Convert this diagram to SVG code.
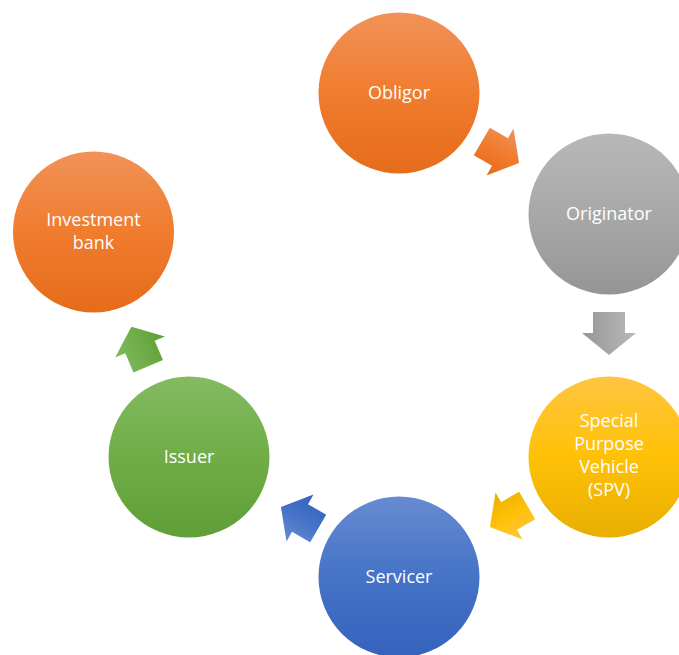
<svg xmlns="http://www.w3.org/2000/svg" width="679" height="655" viewBox="0 0 679 655">
<defs>
<linearGradient id="gOr" x1="0" y1="0" x2="0" y2="1"><stop offset="0" stop-color="#F19258"/><stop offset="0.5" stop-color="#F07C2E"/><stop offset="1" stop-color="#E56C1A"/></linearGradient>
<linearGradient id="gGy" x1="0" y1="0" x2="0" y2="1"><stop offset="0" stop-color="#B8B8B8"/><stop offset="0.5" stop-color="#A8A8A8"/><stop offset="1" stop-color="#959595"/></linearGradient>
<linearGradient id="gYe" x1="0" y1="0" x2="0" y2="1"><stop offset="0" stop-color="#FFC540"/><stop offset="0.5" stop-color="#FFC107"/><stop offset="1" stop-color="#E8AE00"/></linearGradient>
<linearGradient id="gBl" x1="0" y1="0" x2="0" y2="1"><stop offset="0" stop-color="#678BD2"/><stop offset="0.5" stop-color="#4573C6"/><stop offset="1" stop-color="#3562BC"/></linearGradient>
<linearGradient id="gGr" x1="0" y1="0" x2="0" y2="1"><stop offset="0" stop-color="#83BB61"/><stop offset="0.5" stop-color="#70AD47"/><stop offset="1" stop-color="#5F9F37"/></linearGradient>
<path id="arr" d="M-21,-16 L0,-16 L0,-27 L22,0 L0,27 L0,16 L-21,16 Z"/>
</defs>
<style>
text{font-family:"Open Sans","Liberation Sans",sans-serif;font-size:18px;fill:#FFFFFF;text-anchor:middle}
</style>
<g id="connectors">
<use href="#arr" fill="url(#gOr)" transform="translate(500,152) rotate(30)"/>
<use href="#arr" fill="url(#gGy)" transform="translate(609,333) rotate(90)"/>
<use href="#arr" fill="url(#gYe)" transform="translate(509,516) rotate(150)"/>
<use href="#arr" fill="url(#gBl)" transform="translate(300,518) rotate(210)"/>
<use href="#arr" fill="url(#gGr)" transform="translate(140,347) rotate(247)"/>
</g>
<g id="obligor"><circle cx="399" cy="93" r="80.5" fill="url(#gOr)"/><text x="399" y="99">Obligor</text></g>
<g id="originator"><circle cx="609" cy="214" r="80.5" fill="url(#gGy)"/><text x="609" y="220">Originator</text></g>
<g id="spv"><circle cx="609" cy="457" r="80.5" fill="url(#gYe)"/><text x="609" y="427">Special</text><text x="609" y="450">Purpose</text><text x="609" y="473">Vehicle</text><text x="609" y="496">(SPV)</text></g>
<g id="servicer"><circle cx="399" cy="577" r="80.5" fill="url(#gBl)"/><text x="399" y="583">Servicer</text></g>
<g id="issuer"><circle cx="189" cy="457" r="80.5" fill="url(#gGr)"/><text x="189" y="463">Issuer</text></g>
<g id="investment-bank"><circle cx="93.5" cy="232" r="80.5" fill="url(#gOr)"/><text x="93.5" y="226">Investment</text><text x="93.5" y="249">bank</text></g>
</svg>
